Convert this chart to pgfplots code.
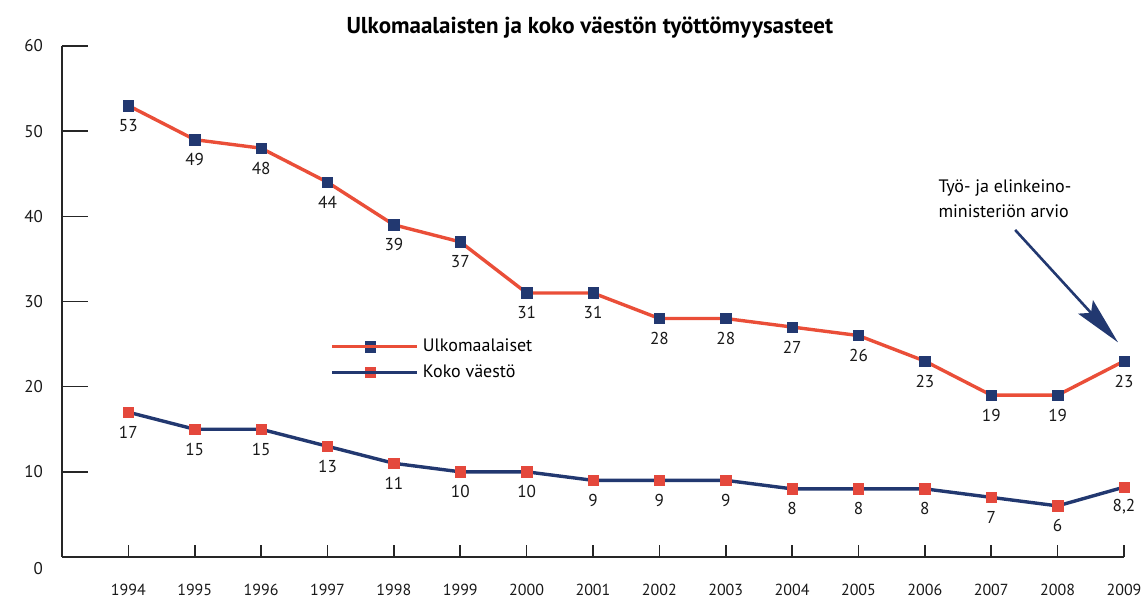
\documentclass[border=0pt]{standalone}
\usepackage{fontspec}
\setmainfont{PT Sans}
\usepackage{pgfplots}
\usepackage{pgfplotstable}
\pgfplotsset{compat=1.18}
\usetikzlibrary{arrows.meta}
\definecolor{rd}{RGB}{234,78,56}
\definecolor{mrd}{RGB}{228,72,60}
\definecolor{nv}{RGB}{34,56,112}

\pgfplotstableread{
x y lab
1994 53 53
1995 49 49
1996 48 48
1997 44 44
1998 39 39
1999 37 37
2000 31 31
2001 31 31
2002 28 28
2003 28 28
2004 27 27
2005 26 26
2006 23 23
2007 19 19
2008 19 19
2009 23 23
}\ulko

\pgfplotstableread{
x y lab
1994 17 17
1995 15 15
1996 15 15
1997 13 13
1998 11 11
1999 10 10
2000 10 10
2001 9 9
2002 9 9
2003 9 9
2004 8 8
2005 8 8
2006 8 8
2007 7 7
2008 6 6
2009 8.2 8,2
}\koko

\begin{document}
\begin{tikzpicture}[font=\fontsize{8}{9.6}\selectfont]
\useasboundingbox (-31pt,-20pt) rectangle (541.5pt,278.5pt);
\begin{axis}[
  at={(0,0)}, anchor=south west,
  scale only axis, width=531pt, height=255.5pt,
  xmin=1993, xmax=2009, ymin=0, ymax=60,
  axis x line=bottom, axis y line=left,
  axis line style={-, line width=0.8pt, black!85},
  xtick={1994,1995,...,2009},
  ytick={10,20,...,60},
  extra y ticks={0},
  extra y tick style={yticklabel style={yshift=-6pt}},
  tick align=inside,
  major tick length=13pt,
  xtick style={/pgfplots/major tick length=6pt, line width=0.8pt, black!85},
  ytick style={line width=0.8pt, black!85},
  /pgf/number format/assume math mode=true,
  /pgf/number format/1000 sep={},
  yticklabel style={font=\fontsize{8.5}{10}\selectfont, xshift=-6pt, text=black!90},
  xticklabel style={font=\fontsize{8}{10}\selectfont, yshift=-10pt, text=black!90},
  title={Ulkomaalaisten ja koko väestön työttömyysasteet},
  title style={at={(0.497,1)}, anchor=center, yshift=3pt, font=\bfseries\fontsize{11.5}{13}\selectfont},
  clip=false,
  legend style={draw=none, fill=none, at={(axis cs:1996.95,26.6)}, anchor=north west,
    font=\fontsize{9}{11}\selectfont, row sep=1pt, cells={anchor=west}},
  legend image code/.code={\draw[mark repeat=2,mark phase=2,#1] plot coordinates {(0pt,0pt) (19pt,0pt) (38pt,0pt)}; \path (0pt,0pt) -- (42.5pt,0pt);},
  nodes near coords,
  point meta=explicit symbolic,
  every node near coord/.append style={anchor=center, yshift=-10pt, text=black!90, font=\fontsize{8.6}{10}\selectfont},
]
\addplot[rd, line width=1.7pt, mark=square*, mark size=2.6pt, mark options={fill=nv, draw=nv, line width=0.3pt}] table[x=x, y=y, meta=lab] {\ulko};
\addlegendentry{Ulkomaalaiset}
\addplot[nv, line width=1.7pt, mark=square*, mark size=2.6pt, mark options={fill=mrd, draw=mrd, line width=0.3pt}] table[x=x, y=y, meta=lab] {\koko};
\addlegendentry{Koko väestö}
\node[anchor=north west, inner sep=0pt, align=left, font=\fontsize{9}{12.5}\selectfont] at (axis cs:2006.2,44.3) {Työ- ja elinkeino-\\ministeriön arvio};
\draw[nv, line width=1.3pt, -{Stealth[length=24pt, width=10pt, inset=4pt]}] (axis cs:2007.36,38.4) -- (axis cs:2008.91,25.2);
\end{axis}
\end{tikzpicture}
\end{document}
